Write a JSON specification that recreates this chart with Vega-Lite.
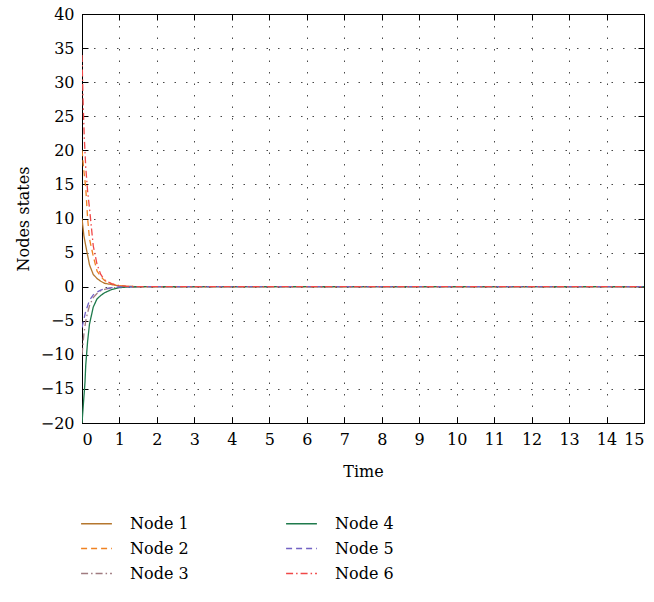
{
  "$schema": "https://vega.github.io/schema/vega-lite/v6.json",
  "width": 562,
  "height": 409,
  "autosize": "none",
  "padding": {"left": 82, "top": 14, "right": 10, "bottom": 179},
  "background": "white",
  "config": {
    "font": "DejaVu Serif",
    "view": {"stroke": "black", "strokeWidth": 1},
    "axis": {
      "labelFont": "DejaVu Serif",
      "titleFont": "DejaVu Serif",
      "labelFontSize": 16,
      "titleFontSize": 16,
      "titleFontWeight": "normal",
      "labelColor": "black",
      "titleColor": "black",
      "domainColor": "black",
      "tickColor": "black",
      "tickSize": -6,
      "tickWidth": 1,
      "gridColor": "#333333",
      "gridDash": [1.5, 10],
      "gridOpacity": 0.9
    },
    "legend": {
      "labelFont": "DejaVu Serif",
      "labelFontSize": 16,
      "labelColor": "black"
    }
  },
  "data": {
    "values": [
      {"t": 0, "v": 10, "node": "Node 1"}, {"t": 0.05, "v": 7.5, "node": "Node 1"}, {"t": 0.1, "v": 6, "node": "Node 1"}, {"t": 0.15, "v": 4.6, "node": "Node 1"}, {"t": 0.2, "v": 3.2, "node": "Node 1"}, {"t": 0.3, "v": 1.8, "node": "Node 1"}, {"t": 0.4, "v": 1.2, "node": "Node 1"}, {"t": 0.5, "v": 0.8, "node": "Node 1"}, {"t": 0.6, "v": 0.5, "node": "Node 1"}, {"t": 0.8, "v": 0.3, "node": "Node 1"}, {"t": 1.0, "v": 0.1, "node": "Node 1"}, {"t": 1.2, "v": 0.05, "node": "Node 1"}, {"t": 1.5, "v": 0, "node": "Node 1"}, {"t": 15, "v": 0, "node": "Node 1"},
      {"t": 0, "v": 20, "node": "Node 2"}, {"t": 0.05, "v": 17, "node": "Node 2"}, {"t": 0.1, "v": 14.5, "node": "Node 2"}, {"t": 0.15, "v": 10, "node": "Node 2"}, {"t": 0.2, "v": 7, "node": "Node 2"}, {"t": 0.3, "v": 4.5, "node": "Node 2"}, {"t": 0.4, "v": 2.3, "node": "Node 2"}, {"t": 0.5, "v": 1.5, "node": "Node 2"}, {"t": 0.6, "v": 0.9, "node": "Node 2"}, {"t": 0.8, "v": 0.4, "node": "Node 2"}, {"t": 1.0, "v": 0.15, "node": "Node 2"}, {"t": 1.2, "v": 0.05, "node": "Node 2"}, {"t": 1.5, "v": 0, "node": "Node 2"}, {"t": 15, "v": 0, "node": "Node 2"},
      {"t": 0, "v": -10, "node": "Node 3"}, {"t": 0.05, "v": -7, "node": "Node 3"}, {"t": 0.1, "v": -5, "node": "Node 3"}, {"t": 0.15, "v": -3.8, "node": "Node 3"}, {"t": 0.2, "v": -2.8, "node": "Node 3"}, {"t": 0.3, "v": -1.6, "node": "Node 3"}, {"t": 0.4, "v": -1, "node": "Node 3"}, {"t": 0.5, "v": -0.6, "node": "Node 3"}, {"t": 0.6, "v": -0.4, "node": "Node 3"}, {"t": 0.8, "v": -0.2, "node": "Node 3"}, {"t": 1.0, "v": -0.05, "node": "Node 3"}, {"t": 1.5, "v": 0, "node": "Node 3"}, {"t": 15, "v": 0, "node": "Node 3"},
      {"t": 0, "v": -20, "node": "Node 4"}, {"t": 0.04, "v": -17, "node": "Node 4"}, {"t": 0.08, "v": -14, "node": "Node 4"}, {"t": 0.1, "v": -11.5, "node": "Node 4"}, {"t": 0.15, "v": -8, "node": "Node 4"}, {"t": 0.2, "v": -5.5, "node": "Node 4"}, {"t": 0.3, "v": -3, "node": "Node 4"}, {"t": 0.4, "v": -1.8, "node": "Node 4"}, {"t": 0.5, "v": -1.3, "node": "Node 4"}, {"t": 0.6, "v": -0.9, "node": "Node 4"}, {"t": 0.8, "v": -0.4, "node": "Node 4"}, {"t": 1.0, "v": -0.15, "node": "Node 4"}, {"t": 1.2, "v": -0.05, "node": "Node 4"}, {"t": 1.5, "v": 0, "node": "Node 4"}, {"t": 15, "v": 0, "node": "Node 4"},
      {"t": 0, "v": -6, "node": "Node 5"}, {"t": 0.05, "v": -4.8, "node": "Node 5"}, {"t": 0.1, "v": -3.6, "node": "Node 5"}, {"t": 0.15, "v": -2.8, "node": "Node 5"}, {"t": 0.2, "v": -2, "node": "Node 5"}, {"t": 0.3, "v": -1.2, "node": "Node 5"}, {"t": 0.4, "v": -0.8, "node": "Node 5"}, {"t": 0.5, "v": -0.5, "node": "Node 5"}, {"t": 0.6, "v": -0.3, "node": "Node 5"}, {"t": 0.8, "v": -0.15, "node": "Node 5"}, {"t": 1.0, "v": -0.05, "node": "Node 5"}, {"t": 1.5, "v": 0, "node": "Node 5"}, {"t": 15, "v": 0, "node": "Node 5"},
      {"t": 0, "v": 34, "node": "Node 6"}, {"t": 0.03, "v": 27, "node": "Node 6"}, {"t": 0.06, "v": 22, "node": "Node 6"}, {"t": 0.1, "v": 17.5, "node": "Node 6"}, {"t": 0.15, "v": 14, "node": "Node 6"}, {"t": 0.2, "v": 11.5, "node": "Node 6"}, {"t": 0.3, "v": 6, "node": "Node 6"}, {"t": 0.4, "v": 3.3, "node": "Node 6"}, {"t": 0.5, "v": 1.8, "node": "Node 6"}, {"t": 0.6, "v": 1, "node": "Node 6"}, {"t": 0.8, "v": 0.4, "node": "Node 6"}, {"t": 1.0, "v": 0.15, "node": "Node 6"}, {"t": 1.2, "v": 0.05, "node": "Node 6"}, {"t": 1.5, "v": 0, "node": "Node 6"}, {"t": 15, "v": 0, "node": "Node 6"}
    ]
  },
  "layer": [
    {
      "mark": {"type": "line", "strokeWidth": 1.3, "clip": true},
      "encoding": {
        "x": {"field": "t", "type": "quantitative", "scale": {"domain": [0, 15], "nice": false, "zero": false},
              "axis": {"title": "Time", "values": [0,1,2,3,4,5,6,7,8,9,10,11,12,13,14,15], "grid": true, "labelPadding": 14, "titlePadding": 16}},
        "y": {"field": "v", "type": "quantitative", "scale": {"domain": [-20, 40], "nice": false},
              "axis": {"title": "Nodes states", "values": [-20,-15,-10,-5,0,5,10,15,20,25,30,35,40], "grid": true, "labelPadding": 14, "titlePadding": 9}},
        "color": {"field": "node", "type": "nominal",
                  "scale": {"domain": ["Node 1", "Node 4", "Node 2", "Node 5", "Node 3", "Node 6"],
                            "range": ["#b5772e", "#1f7a4c", "#f08222", "#7262c4", "#a07b80", "#f04848"]},
                  "legend": {"title": null, "orient": "none", "legendX": -2, "legendY": 493, "columns": 2, "direction": "horizontal",
                             "symbolType": "stroke", "symbolSize": 950, "symbolStrokeWidth": 1.5, "labelOffset": 17,
                             "columnPadding": 94, "rowPadding": 0}},
        "strokeDash": {"field": "node", "type": "nominal",
                  "scale": {"domain": ["Node 1", "Node 4", "Node 2", "Node 5", "Node 3", "Node 6"],
                            "range": [[1, 0], [1, 0], [6, 4], [6, 4], [7, 3, 1.5, 3], [7, 3, 1.5, 3]]},
                  "legend": {"title": null, "orient": "none", "legendX": -2, "legendY": 493, "columns": 2, "direction": "horizontal",
                             "symbolType": "stroke", "symbolSize": 950, "symbolStrokeWidth": 1.5, "labelOffset": 17,
                             "columnPadding": 94, "rowPadding": 0}}
      }
    },
    {
      "mark": {"type": "line", "opacity": 0},
      "encoding": {
        "x": {"field": "t", "type": "quantitative", "axis": {"orient": "top", "title": null, "labels": false, "grid": false, "values": [0,1,2,3,4,5,6,7,8,9,10,11,12,13,14,15]}},
        "y": {"field": "v", "type": "quantitative", "axis": {"orient": "right", "title": null, "labels": false, "grid": false, "values": [-20,-15,-10,-5,0,5,10,15,20,25,30,35,40]}},
        "detail": {"field": "node"}
      }
    }
  ],
  "resolve": {"axis": {"x": "independent", "y": "independent"}}
}
